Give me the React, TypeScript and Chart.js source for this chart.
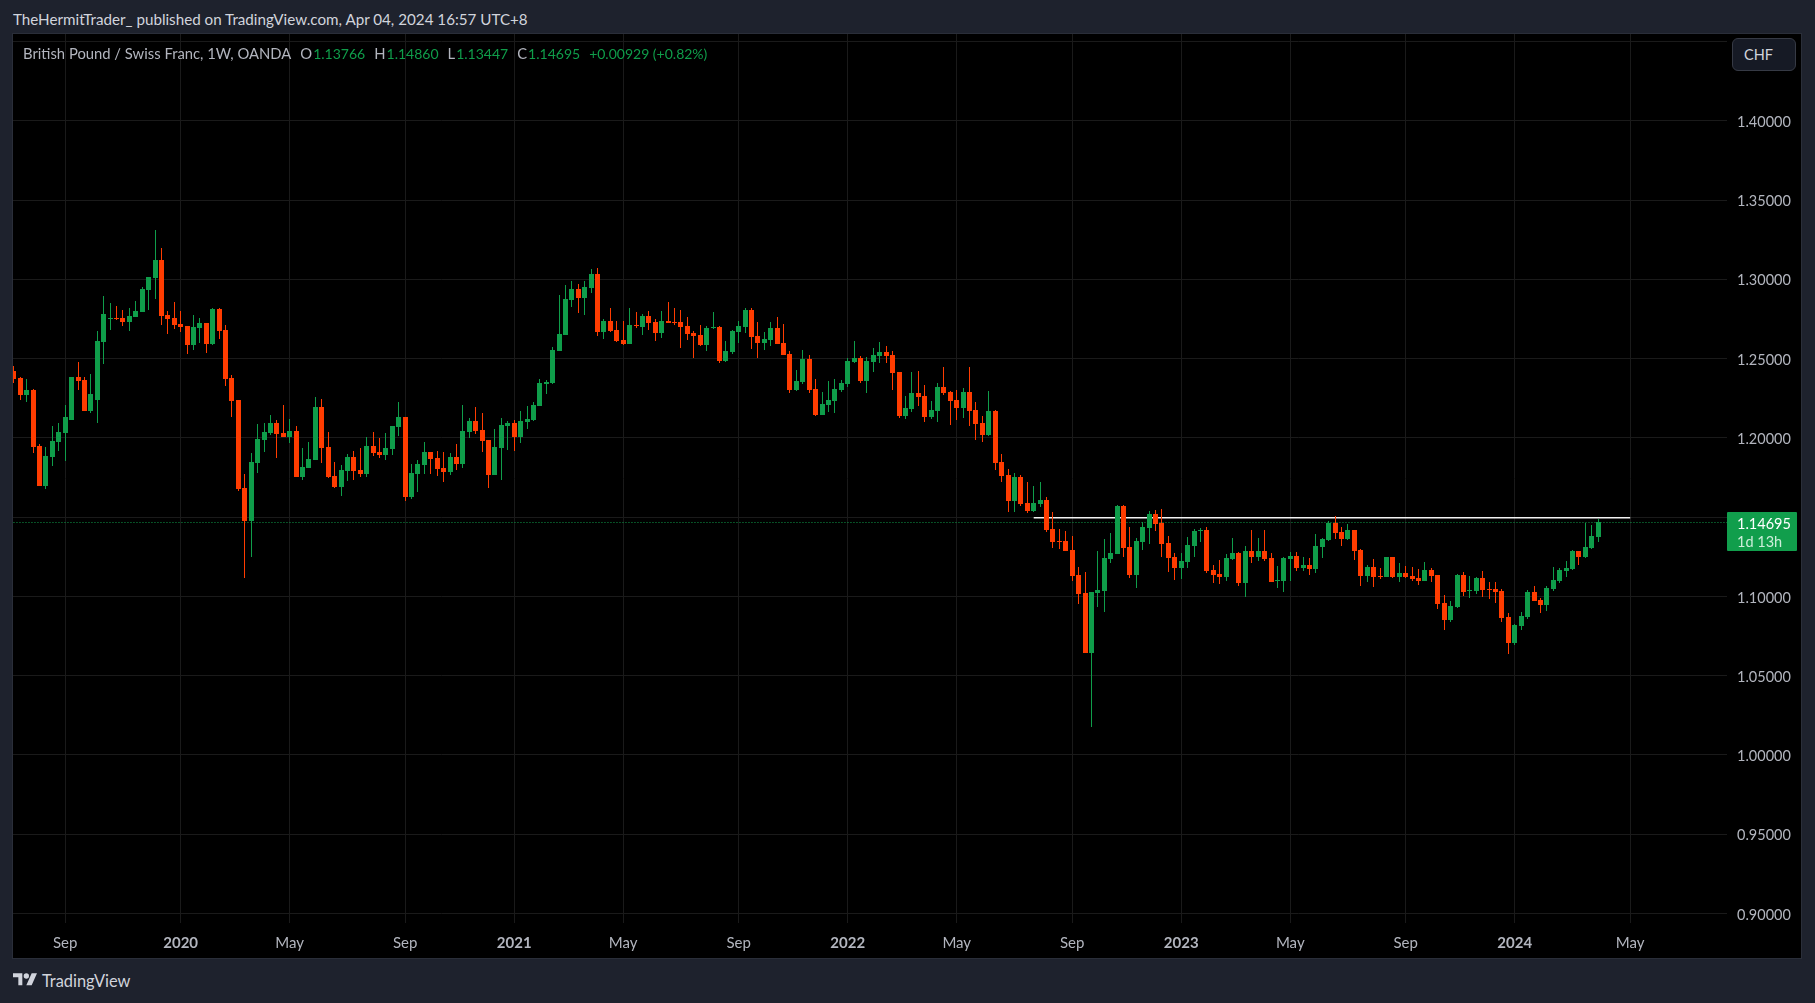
import React, { useEffect, useRef } from "react";
import { Chart, registerables } from "chart.js";
Chart.register(...registerables);

const opens = [
  1.2422,1.2378,1.2270,1.2302,1.1948,1.1696,1.1879,1.1974,1.2031,1.2113,
  1.2384,1.2365,1.2169,1.2239,1.2605,1.2750,1.2756,1.2756,1.2731,1.2762,
  1.2794,1.2933,1.3008,1.3122,1.2775,1.2756,1.2718,1.2706,1.2586,1.2693,
  1.2725,1.2592,1.2813,1.2680,1.2378,1.2239,1.1684,1.1475,1.1841,1.1986,
  1.2031,1.2094,1.2031,1.2005,1.2043,1.1753,1.1810,1.1860,1.2195,1.1942,
  1.1759,1.1690,1.1791,1.1879,1.1797,1.1772,1.1948,1.1911,1.1892,1.1930,
  1.2068,1.2131,1.1627,1.1772,1.1829,1.1911,1.1873,1.1810,1.1784,1.1879,
  1.1835,1.2037,1.2106,1.2049,1.1986,1.1766,1.1936,1.2075,1.2094,1.2005,
  1.2100,1.2113,1.2201,1.2340,1.2346,1.2548,1.2649,1.2870,1.2939,1.2882,
  1.2945,1.3034,1.2668,1.2737,1.2680,1.2617,1.2592,1.2712,1.2699,1.2769,
  1.2731,1.2661,1.2737,1.2731,1.2731,1.2706,1.2661,1.2649,1.2586,1.2693,
  1.2699,1.2485,1.2542,1.2668,1.2699,1.2807,1.2643,1.2598,1.2617,1.2693,
  1.2598,1.2529,1.2302,1.2352,1.2497,1.2308,1.2144,1.2207,1.2232,1.2302,
  1.2340,1.2478,1.2504,1.2359,1.2478,1.2516,1.2542,1.2523,1.2415,1.2138,
  1.2182,1.2283,1.2264,1.2131,1.2169,1.2321,1.2289,1.2239,1.2188,1.2289,
  1.2176,1.2094,1.2018,1.2169,1.1848,1.1766,1.1602,1.1753,1.1589,1.1538,
  1.1583,1.1608,1.1425,1.1349,1.1349,1.1292,1.1135,1.1021,1.0643,1.1021,
  1.1034,1.1236,1.1267,1.1570,1.1311,1.1135,1.1343,1.1431,1.1520,1.1463,
  1.1337,1.1248,1.1179,1.1217,1.1318,1.1412,1.1419,1.1166,1.1141,1.1122,
  1.1236,1.1273,1.1084,1.1286,1.1248,1.1286,1.1242,1.1097,1.1097,1.1236,
  1.1254,1.1179,1.1198,1.1173,1.1311,1.1355,1.1463,1.1406,1.1362,1.1419,
  1.1292,1.1128,1.1185,1.1128,1.1122,1.1248,1.1122,1.1147,1.1128,1.1116,
  1.1097,1.1166,1.1135,1.0958,1.0851,1.0933,1.1135,1.1034,1.1034,1.1116,
  1.1046,1.1046,1.1034,1.0870,1.0706,1.0813,1.0870,1.1027,1.0977,1.0945,
  1.1046,1.1097,1.1160,1.1173,1.1286,1.1248,1.1305,1.13766,
];

const highs = [
  1.2453,1.2384,1.2371,1.2308,1.1961,1.1942,1.2075,1.2091,1.2207,1.2384,
  1.2478,1.2384,1.2403,1.2674,1.2895,1.2851,1.2832,1.2807,1.2819,1.2863,
  1.2952,1.3015,1.3311,1.3198,1.2800,1.2857,1.2800,1.2706,1.2775,1.2756,
  1.2725,1.2819,1.2819,1.2712,1.2396,1.2239,1.1772,1.1904,1.2087,1.2094,
  1.2144,1.2113,1.2207,1.2119,1.2075,1.1936,1.1974,1.2258,1.2245,1.2037,
  1.1848,1.1829,1.1898,1.1917,1.1936,1.2005,1.2037,1.1999,1.2031,1.2075,
  1.2226,1.2131,1.1835,1.1860,1.1974,1.1911,1.1917,1.1911,1.1904,1.1961,
  1.2207,1.2125,1.2195,1.2157,1.1986,1.2056,1.2125,1.2106,1.2113,1.2169,
  1.2201,1.2226,1.2371,1.2365,1.2573,1.2901,1.2964,1.2989,1.2971,1.2989,
  1.3065,1.3072,1.2750,1.2819,1.2737,1.2737,1.2819,1.2794,1.2781,1.2800,
  1.2750,1.2800,1.2857,1.2819,1.2807,1.2762,1.2674,1.2712,1.2706,1.2794,
  1.2706,1.2611,1.2680,1.2737,1.2819,1.2819,1.2731,1.2668,1.2731,1.2762,
  1.2718,1.2548,1.2428,1.2554,1.2523,1.2371,1.2289,1.2359,1.2371,1.2365,
  1.2504,1.2611,1.2516,1.2510,1.2567,1.2605,1.2579,1.2548,1.2415,1.2264,
  1.2415,1.2422,1.2333,1.2232,1.2346,1.2447,1.2296,1.2302,1.2314,1.2447,
  1.2226,1.2138,1.2296,1.2176,1.1898,1.1803,1.1778,1.1766,1.1721,1.1696,
  1.1721,1.1627,1.1532,1.1425,1.1412,1.1381,1.1185,1.1154,1.1027,1.1286,
  1.1362,1.1400,1.1576,1.1576,1.1437,1.1368,1.1469,1.1538,1.1545,1.1551,
  1.1381,1.1273,1.1273,1.1374,1.1425,1.1431,1.1437,1.1198,1.1229,1.1267,
  1.1368,1.1280,1.1318,1.1419,1.1368,1.1419,1.1273,1.1191,1.1248,1.1280,
  1.1280,1.1248,1.1242,1.1393,1.1368,1.1475,1.1507,1.1437,1.1456,1.1419,
  1.1299,1.1198,1.1236,1.1179,1.1248,1.1248,1.1210,1.1191,1.1185,1.1173,
  1.1217,1.1179,1.1135,1.1009,1.0971,1.1141,1.1154,1.1128,1.1122,1.1160,
  1.1090,1.1090,1.1046,1.0895,1.0826,1.0901,1.1040,1.1065,1.0990,1.1065,
  1.1185,1.1179,1.1223,1.1292,1.1286,1.1463,1.1450,1.1486,
];

const lows = [
  1.2348,1.2239,1.2226,1.1904,1.1696,1.1677,1.1822,1.1917,1.1854,1.2113,
  1.2302,1.2169,1.2159,1.2094,1.2466,1.2680,1.2743,1.2706,1.2674,1.2762,
  1.2794,1.2807,1.2876,1.2712,1.2655,1.2687,1.2668,1.2529,1.2554,1.2598,
  1.2535,1.2586,1.2624,1.2327,1.2131,1.1665,1.1116,1.1248,1.1778,1.1911,
  1.2018,1.1873,1.2005,1.1967,1.1753,1.1734,1.1810,1.1860,1.1841,1.1747,
  1.1684,1.1633,1.1728,1.1734,1.1753,1.1753,1.1885,1.1873,1.1860,1.1892,
  1.2012,1.1602,1.1614,1.1658,1.1772,1.1772,1.1759,1.1721,1.1766,1.1797,
  1.1810,1.1999,1.2024,1.1911,1.1684,1.1766,1.1734,1.1923,1.1917,1.1967,
  1.2056,1.2106,1.2201,1.2277,1.2340,1.2548,1.2649,1.2825,1.2788,1.2775,
  1.2914,1.2643,1.2624,1.2668,1.2605,1.2586,1.2592,1.2693,1.2649,1.2680,
  1.2611,1.2630,1.2725,1.2712,1.2567,1.2617,1.2504,1.2579,1.2548,1.2687,
  1.2472,1.2478,1.2529,1.2598,1.2661,1.2560,1.2504,1.2554,1.2579,1.2592,
  1.2523,1.2283,1.2296,1.2340,1.2283,1.2138,1.2144,1.2163,1.2157,1.2289,
  1.2321,1.2472,1.2346,1.2283,1.2415,1.2472,1.2472,1.2302,1.2125,1.2119,
  1.2163,1.2201,1.2100,1.2119,1.2100,1.2270,1.2081,1.2113,1.2125,1.2075,
  1.1986,1.1974,1.2012,1.1797,1.1721,1.1532,1.1532,1.1570,1.1526,1.1532,
  1.1564,1.1406,1.1305,1.1299,1.1286,1.1097,1.0952,1.0643,1.0176,1.0933,
  1.0901,1.1210,1.1267,1.1248,1.1116,1.1053,1.1292,1.1330,1.1412,1.1248,
  1.1154,1.1103,1.1109,1.1179,1.1248,1.1343,1.1147,1.1084,1.1078,1.1097,
  1.1229,1.1065,1.0996,1.1210,1.1223,1.1223,1.1090,1.1053,1.1027,1.1097,
  1.1160,1.1160,1.1135,1.1147,1.1242,1.1349,1.1362,1.1318,1.1355,1.1229,
  1.1065,1.1090,1.1059,1.1109,1.1122,1.1116,1.1090,1.1116,1.1097,1.1072,
  1.1097,1.1090,1.0920,1.0788,1.0838,1.0926,1.1002,1.0990,1.1015,1.0996,
  1.0983,1.0958,1.0838,1.0636,1.0693,1.0788,1.0857,1.0971,1.0895,1.0908,
  1.1034,1.1084,1.1122,1.1166,1.1198,1.1242,1.1299,1.13447,
];

const closes = [
  1.2371,1.2270,1.2302,1.1942,1.1696,1.1885,1.1980,1.2037,1.2131,1.2384,
  1.2359,1.2169,1.2277,1.2611,1.2781,1.2756,1.2750,1.2731,1.2769,1.2800,
  1.2939,1.3015,1.3122,1.2769,1.2750,1.2712,1.2699,1.2586,1.2699,1.2725,
  1.2592,1.2813,1.2674,1.2371,1.2232,1.1677,1.1475,1.1848,1.1993,1.2037,
  1.2094,1.2024,1.2005,1.2043,1.1753,1.1816,1.1866,1.2195,1.1936,1.1753,
  1.1690,1.1797,1.1879,1.1791,1.1772,1.1948,1.1904,1.1892,1.1936,1.2075,
  1.2131,1.1627,1.1778,1.1835,1.1911,1.1866,1.1803,1.1784,1.1879,1.1835,
  1.2043,1.2106,1.2043,1.1980,1.1766,1.1942,1.2081,1.2094,1.2005,1.2106,
  1.2119,1.2207,1.2346,1.2352,1.2554,1.2655,1.2876,1.2939,1.2882,1.2952,
  1.3034,1.2668,1.2737,1.2674,1.2611,1.2592,1.2712,1.2706,1.2769,1.2725,
  1.2661,1.2737,1.2725,1.2725,1.2699,1.2655,1.2643,1.2586,1.2693,1.2699,
  1.2485,1.2548,1.2674,1.2706,1.2807,1.2636,1.2598,1.2624,1.2693,1.2592,
  1.2523,1.2302,1.2359,1.2497,1.2302,1.2144,1.2213,1.2239,1.2308,1.2346,
  1.2485,1.2504,1.2359,1.2485,1.2523,1.2542,1.2516,1.2409,1.2138,1.2188,
  1.2283,1.2258,1.2131,1.2176,1.2321,1.2283,1.2232,1.2188,1.2289,1.2169,
  1.2087,1.2018,1.2169,1.1841,1.1759,1.1602,1.1753,1.1583,1.1538,1.1589,
  1.1608,1.1419,1.1343,1.1343,1.1286,1.1128,1.1015,1.0643,1.1027,1.1040,
  1.1242,1.1273,1.1570,1.1305,1.1135,1.1349,1.1437,1.1520,1.1456,1.1330,
  1.1242,1.1179,1.1223,1.1324,1.1412,1.1419,1.1160,1.1135,1.1122,1.1242,
  1.1273,1.1084,1.1286,1.1248,1.1286,1.1236,1.1090,1.1103,1.1242,1.1254,
  1.1179,1.1198,1.1173,1.1318,1.1362,1.1463,1.1400,1.1362,1.1419,1.1286,
  1.1128,1.1185,1.1122,1.1122,1.1248,1.1122,1.1147,1.1122,1.1109,1.1097,
  1.1166,1.1128,1.0952,1.0851,1.0939,1.1135,1.1027,1.1040,1.1116,1.1040,
  1.1040,1.1027,1.0863,1.0706,1.0819,1.0876,1.1027,1.0971,1.0945,1.1053,
  1.1103,1.1166,1.1179,1.1286,1.1248,1.1311,1.1381,1.14695,
];

// week index of each time axis label
const timeTickIndex = [8, 26, 43, 61, 78, 95, 113, 130, 147, 165, 182, 199, 217, 234, 252];
const timeTickLabels = ["Sep", "2020", "May", "Sep", "2021", "May", "Sep", "2022", "May", "Sep", "2023", "May", "Sep", "2024", "May"];
const priceTicks = [0.9, 0.95, 1.0, 1.05, 1.1, 1.15, 1.2, 1.25, 1.3, 1.35, 1.4, 1.45];
// the 1.45 line has no label, the currency button sits there
const priceTickLabels = ["0.90000", "0.95000", "1.00000", "1.05000", "1.10000", "1.15000", "1.20000", "1.25000", "1.30000", "1.35000", "1.40000", ""];

// the drawn resistance line and the last price
const levelPrice = 1.1496;
const levelFrom = 159;
const levelTo = 252;
const lastPrice = 1.14695;
const lastLabel = "1.14695";
const lastCountdown = "1d 13h";

const GREEN = "#0f9d4a";
const RED = "#ff3c00";
const BG = "#1e222d";
const TEXT = "#b2b5be";
const GRID = "#1a1a1a";
const FONT = "Lato, 'Open Sans', sans-serif";

// candles sit on whole pixels in the original, so snap them like a trading chart does
const snapPlugin = {
  id: "snapCandles",
  beforeDatasetsDraw(chart: any) {
    [0, 1].forEach((d) => {
      chart.getDatasetMeta(d).data.forEach((bar: any) => {
        bar.x = Math.round(bar.x - 0.5) + 0.5;
        bar.y = Math.round(bar.y);
        bar.base = Math.round(bar.base);
        if (bar.y === bar.base) bar.base += 1;
      });
    });
    chart.getDatasetMeta(3).data.forEach((pt: any) => {
      pt.y = Math.round(pt.y) + 0.5;
    });
  },
};

const lastPricePlugin = {
  id: "lastPriceLabel",
  afterDraw(chart: any) {
    const { ctx, chartArea, scales } = chart;
    const y = scales.y.getPixelForValue(lastPrice);
    ctx.save();
    ctx.fillStyle = "#119e4c";
    ctx.beginPath();
    ctx.roundRect(chartArea.right, y - 10, 70, 39, 1);
    ctx.fill();
    ctx.textAlign = "left";
    ctx.textBaseline = "middle";
    ctx.fillStyle = "#ffffff";
    ctx.font = `14.5px ${FONT}`;
    ctx.fillText(lastLabel, chartArea.right + 10, y + 2);
    ctx.fillStyle = "#cdeeda";
    ctx.fillText(lastCountdown, chartArea.right + 10, y + 20);
    ctx.restore();
  },
};

const PriceChart: React.FC = () => {
  const canvasRef = useRef<HTMLCanvasElement | null>(null);

  useEffect(() => {
    if (!canvasRef.current) return;
    const candleColors = opens.map((o, i) => (closes[i] >= o ? GREEN : RED));

    const chart = new Chart(canvasRef.current, {
      type: "bar",
      data: {
        datasets: [
          {
            label: "wick",
            data: highs.map((h, i) => ({ x: i, y: [lows[i], h] })),
            backgroundColor: candleColors,
            barThickness: 1,
            grouped: false,
            borderWidth: 0,
            inflateAmount: 0,
          },
          {
            label: "body",
            data: opens.map((o, i) => ({ x: i, y: [o, closes[i]] })),
            backgroundColor: candleColors,
            barThickness: 5,
            grouped: false,
            borderWidth: 0,
            inflateAmount: 0,
          },
          {
            type: "line",
            label: "level",
            data: [
              { x: levelFrom, y: levelPrice },
              { x: levelTo, y: levelPrice },
            ],
            borderColor: "#f2f2f2",
            borderWidth: 1.4,
            pointRadius: 0,
          },
          {
            type: "line",
            label: "last",
            data: [
              { x: -1, y: lastPrice },
              { x: 268, y: lastPrice },
            ],
            borderColor: GREEN,
            borderWidth: 1,
            borderDash: [1, 2],
            pointRadius: 0,
          },
        ] as any,
      },
      options: {
        animation: false,
        responsive: false,
        events: [],
        layout: { padding: 0, autoPadding: false },
        plugins: { legend: { display: false }, tooltip: { enabled: false } },
        scales: {
          x: {
            type: "linear",
            offset: false,
            min: -0.14,
            max: 267.09,
            afterBuildTicks: (scale: any) => {
              scale.ticks = timeTickIndex.map((value) => ({ value }));
            },
            afterFit: (scale: any) => {
              scale.height = 35;
              scale.paddingLeft = 0;
              scale.paddingRight = 0;
            },
            grid: { color: GRID, offset: false, drawTicks: false },
            border: { display: false },
            ticks: {
              autoSkip: false,
              maxRotation: 0,
              padding: 11,
              color: TEXT,
              font: (c: any) => ({
                family: FONT,
                size: 15,
                weight: /^\d/.test(timeTickLabels[c.index] || "") ? "bold" : "normal",
              }),
              callback: (_v: any, i: number) => timeTickLabels[i],
            },
          },
          y: {
            position: "right",
            min: 0.8939,
            max: 1.45478,
            afterBuildTicks: (scale: any) => {
              scale.ticks = priceTicks.map((value) => ({ value }));
            },
            afterFit: (scale: any) => {
              scale.width = 74;
              scale.paddingTop = 0;
              scale.paddingBottom = 0;
            },
            grid: { color: GRID, drawTicks: false },
            border: { display: false },
            ticks: {
              autoSkip: false,
              padding: 10,
              labelOffset: 1.5,
              color: TEXT,
              font: { family: FONT, size: 14.5 },
              callback: (_v: any, i: number) => priceTickLabels[i],
            },
          },
        },
      } as any,
      plugins: [snapPlugin, lastPricePlugin],
    });

    return () => chart.destroy();
  }, []);

  return <canvas ref={canvasRef} width={1788} height={924} style={{ display: "block" }} />;
};

const legendValue = { color: GREEN, fontSize: 14, marginRight: 9, marginLeft: 1 };

export default function App() {
  return (
    <div style={{ position: "fixed", inset: 0, background: BG, fontFamily: FONT, overflow: "hidden" }}>
      <div style={{ position: "absolute", left: 13, top: 10, fontSize: 15.2, color: "#d1d4dc", whiteSpace: "nowrap" }}>
        TheHermitTrader_ published on TradingView.com, Apr 04, 2024 16:57 UTC+8
      </div>

      <div style={{ position: "absolute", left: 12, top: 33, width: 1788, height: 924, border: "1px solid #2a2e39", background: "#000" }}>
        <PriceChart />
        <div style={{ position: "absolute", left: 10, top: 10, fontSize: 14.8, color: TEXT, whiteSpace: "nowrap" }}>
          <span style={{ marginRight: 9 }}>British Pound / Swiss Franc, 1W, OANDA</span>
          O<span style={legendValue}>1.13766</span>
          H<span style={legendValue}>1.14860</span>
          L<span style={legendValue}>1.13447</span>
          C<span style={legendValue}>1.14695</span>
          <span style={{ color: GREEN, fontSize: 14 }}>+0.00929 (+0.82%)</span>
        </div>
        <div
          style={{
            position: "absolute",
            left: 1719,
            top: 4,
            width: 64,
            height: 33,
            boxSizing: "border-box",
            border: "1px solid #363a45",
            borderRadius: 6,
            background: "#161a25",
            color: "#d1d4dc",
            fontSize: 14.5,
            lineHeight: "31px",
            paddingLeft: 11,
          }}
        >
          CHF
        </div>
      </div>

      <svg style={{ position: "absolute", left: 13, top: 972 }} width="24" height="16" viewBox="0 0 36 24">
        <path d="M0 2h14v18H8V8H0z M20 2a4 4 0 1 1 0 8a4 4 0 0 1 0-8z M28 2h8l-8 18h-8z" fill="#d1d4dc" />
      </svg>
      <div style={{ position: "absolute", left: 42, top: 971, fontSize: 16.4, color: "#d1d4dc" }}>TradingView</div>
    </div>
  );
}
